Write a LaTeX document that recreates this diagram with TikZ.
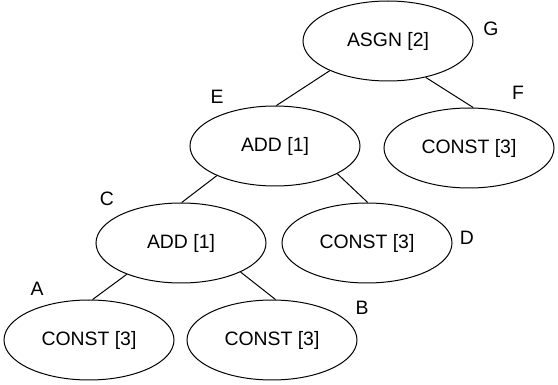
\documentclass[tikz,border=0pt]{standalone}
\usepackage{fontspec}
\setmainfont{Liberation Sans}
\usetikzlibrary{shapes.geometric}
\begin{document}
\begin{tikzpicture}[x=1pt,y=-1pt,
  tnode/.style={draw,ellipse,line width=1pt,minimum width=170pt,minimum height=80pt,inner sep=0pt,font=\fontsize{19.4}{21}\selectfont},
  tlabel/.style={font=\fontsize{19.4}{21}\selectfont,inner sep=0pt},
  tedge/.style={line width=1pt}]
\useasboundingbox (0,0) rectangle (558,385);
\node[tnode] (asgn) at (388,41) {ASGN [2]};
\node[tnode] (add1) at (275,146) {ADD [1]};
\node[tnode] (cf) at (469,148) {CONST [3]};
\node[tnode] (add2) at (181,243) {ADD [1]};
\node[tnode] (cd) at (367,243) {CONST [3]};
\node[tnode] (ca) at (89,340) {CONST [3]};
\node[tnode] (cb) at (272,340) {CONST [3]};
\node[tlabel] (lg) at (491,29) {G};
\node[tlabel] (lf) at (518,93) {F};
\node[tlabel] (le) at (217,97) {E};
\node[tlabel] (ld) at (467,238) {D};
\node[tlabel] (lc) at (107,199) {C};
\node[tlabel] (la) at (37,289) {A};
\node[tlabel] (lb) at (362,308) {B};
\draw[tedge] (asgn.207) -- (add1.88);
\draw[tedge] (asgn.316) -- (cf.84);
\draw[tedge] (add1.207) -- (add2.89);
\draw[tedge] (add1.336) -- (cd.89);
\draw[tedge] (add2.210) -- (ca.85);
\draw[tedge] (add2.334) -- (cb.85);
\end{tikzpicture}
\end{document}
